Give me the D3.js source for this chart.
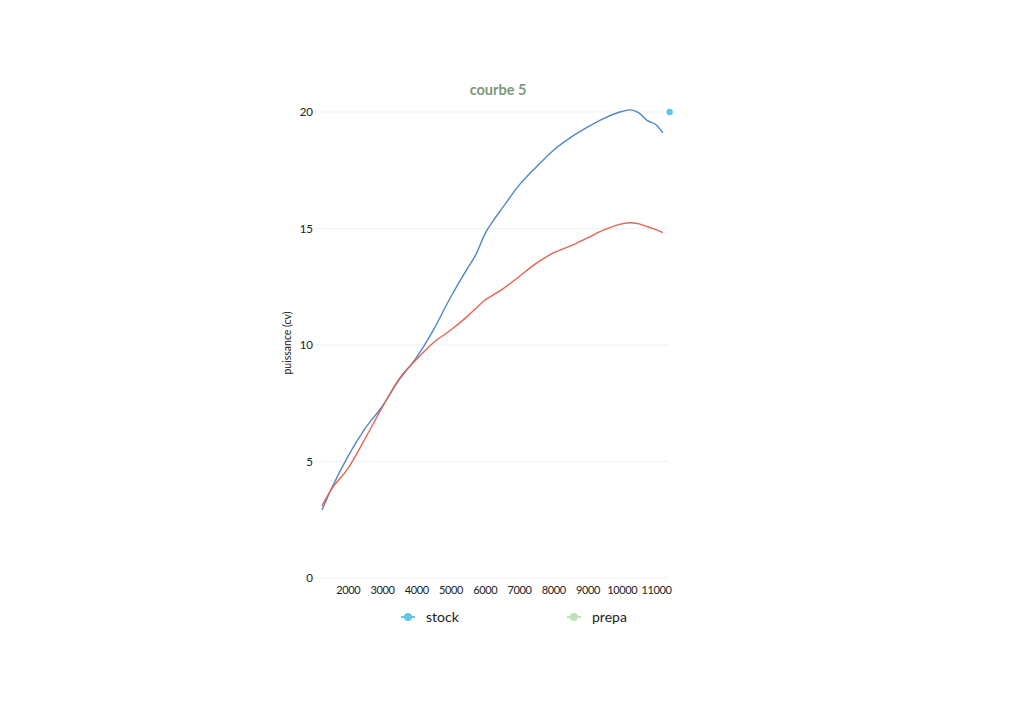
<!DOCTYPE html>
<html>
<head>
<meta charset="utf-8">
<script src="https://cdn.jsdelivr.net/npm/d3@7"></script>
<style>
html,body{margin:0;padding:0;background:#fff;}
svg{display:block;font-family:Lato,"Open Sans",sans-serif;}
</style>
</head>
<body>
<svg id="chart" width="1024" height="724"></svg>
<script>
const rpm = [1250,1500,2000,2500,3000,3500,4000,4500,5000,5500,5750,6000,6250,6500,7000,7500,8000,8500,9000,9500,10000,10250,10500,10750,11000,11200];
const stockValues = [2.92,3.75,5.2,6.4,7.35,8.5,9.45,10.64,12.04,13.3,13.9,14.75,15.34,15.85,16.85,17.63,18.35,18.9,19.35,19.74,20.02,20.09,19.96,19.63,19.45,19.11];
const prepaValues = [3.1,3.75,4.68,5.96,7.3,8.55,9.37,10.1,10.63,11.24,11.58,11.92,12.15,12.38,12.93,13.5,13.95,14.25,14.6,14.95,15.2,15.25,15.2,15.08,14.95,14.82];
const strayPoint = [{rpm:11400, value:20}];
const xTicks = [2000,3000,4000,5000,6000,7000,8000,9000,10000,11000];
const yTicks = [0,5,10,15,20];
const seriesNames = ["stock","prepa"];
const legendColors = ["#62c6e2","#bfe3b8"];
const lineColors = ["#4f86cc","#e5654f"];
const titleText = "courbe 5";
const yLabel = "puissance (cv)";

const svg = d3.select("#chart");
const x = d3.scaleLinear().domain([900,11350]).range([310,668]);
const y = d3.scaleLinear().domain([0,20]).range([578,112]);

// gridlines
svg.append("g").selectAll("line").data(yTicks).join("line")
  .attr("x1",310).attr("x2",668)
  .attr("y1",d=>y(d)).attr("y2",d=>y(d))
  .attr("stroke","#f1f1f1").attr("stroke-width",1);

// y axis
const yAxis = svg.append("g").attr("transform","translate(313,0)")
  .call(d3.axisLeft(y).tickValues(yTicks).tickSize(0).tickPadding(0));
yAxis.select(".domain").remove();
yAxis.selectAll("text").attr("font-family","Lato,sans-serif").attr("font-size",11.5).attr("fill","#222").attr("dy","0.32em");

// x axis
const xAxis = svg.append("g").attr("transform","translate(0,586)")
  .call(d3.axisBottom(x).tickValues(xTicks).tickFormat(d=>String(d)).tickSize(0).tickPadding(0));
xAxis.select(".domain").remove();
xAxis.selectAll("text").attr("font-family","Lato,sans-serif").attr("font-size",11)
  .attr("letter-spacing","-0.4px").attr("fill","#222");

// title
svg.append("text").attr("x",498).attr("y",95).attr("text-anchor","middle")
  .attr("font-size",14.5).attr("font-weight","bold").attr("fill","#7d9a7c").text(titleText);

// y label
svg.append("text").attr("transform","translate(291,343) rotate(-90)").attr("text-anchor","middle")
  .attr("font-size",10.5).attr("fill","#222").text(yLabel);

const line = d3.line().x((d,i)=>x(rpm[i])).y(d=>y(d)).curve(d3.curveMonotoneX);
[stockValues, prepaValues].forEach((vals,k)=>{
  svg.append("path").datum(vals).attr("d",line)
    .attr("fill","none").attr("stroke",lineColors[k]).attr("stroke-width",1.4);
});

svg.selectAll("circle.stray").data(strayPoint).join("circle").attr("class","stray")
  .attr("cx",d=>x(d.rpm)).attr("cy",d=>y(d.value)).attr("r",3.2).attr("fill",legendColors[0]);

// legend
const legendX = [408,574];
const lg = svg.append("g").selectAll("g").data(seriesNames).join("g")
  .attr("transform",(d,i)=>`translate(${legendX[i]},617)`);
lg.append("line").attr("x1",-7).attr("x2",7).attr("y1",0).attr("y2",0)
  .attr("stroke",(d,i)=>legendColors[i]).attr("stroke-width",2);
lg.append("circle").attr("r",4).attr("fill",(d,i)=>legendColors[i]);
lg.append("text").attr("x",18).attr("y",0).attr("dy","0.35em")
  .attr("font-size",14).attr("fill","#222").text(d=>d);
</script>
</body>
</html>
